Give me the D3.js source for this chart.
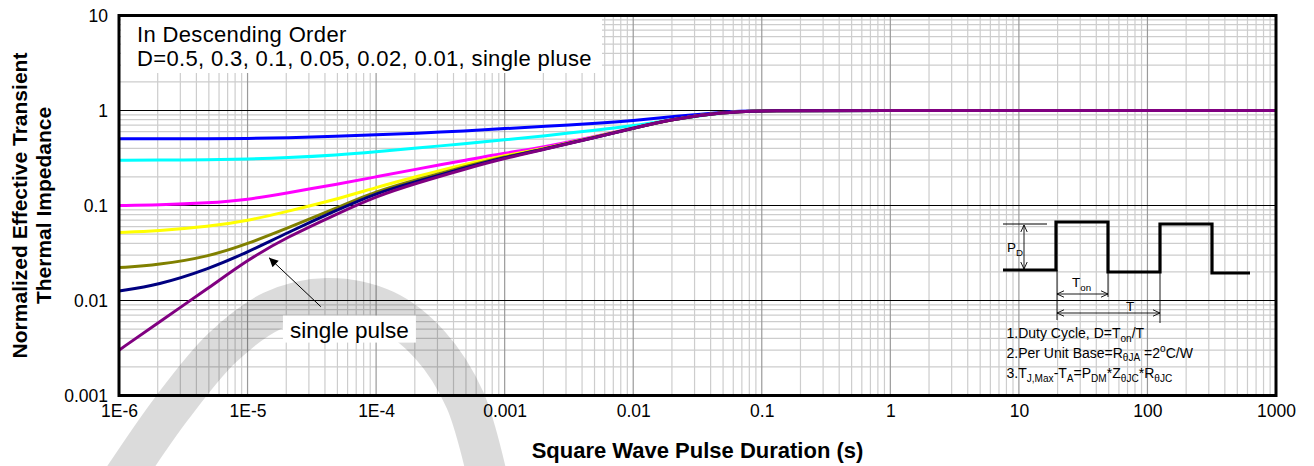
<!DOCTYPE html>
<html>
<head>
<meta charset="utf-8">
<script src="https://cdn.jsdelivr.net/npm/d3@7"></script>
<style>
  html, body { margin: 0; padding: 0; background: #fff; }
  svg { display: block; font-family: "Liberation Sans", Arial, Helvetica, sans-serif; }
</style>
</head>
<body>
<svg id="chart" width="1314" height="466"></svg>
<script>
// Pulse durations (s) at which the curves are sampled
const pulseDurations = [1e-6, 2e-6, 5e-6, 1e-5, 2e-5, 5e-5, 1e-4, 2e-4, 5e-4, 1e-3,
                        2e-3, 5e-3, 1e-2, 2e-2, 5e-2, 1e-1, 1, 10, 100, 1000];

// Normalized effective transient thermal impedance, one array per duty cycle
const zthD050   = [0.503, 0.503, 0.505, 0.507, 0.515, 0.535, 0.555, 0.575, 0.61, 0.645, 0.68, 0.73, 0.78, 0.86, 0.97, 1, 1, 1, 1, 1];
const zthD030   = [0.300, 0.300, 0.303, 0.308, 0.318, 0.340, 0.367, 0.400, 0.45, 0.490, 0.54, 0.62, 0.69, 0.80, 0.955, 1, 1, 1, 1, 1];
const zthD010   = [0.100, 0.101, 0.106, 0.115, 0.135, 0.168, 0.200, 0.240, 0.30, 0.356, 0.41, 0.53, 0.655, 0.81, 0.96, 1, 1, 1, 1, 1];
const zthD005   = [0.052, 0.054, 0.060, 0.069, 0.086, 0.117, 0.155, 0.200, 0.275, 0.335, 0.395, 0.525, 0.65, 0.81, 0.96, 1, 1, 1, 1, 1];
const zthD002   = [0.0222, 0.0236, 0.029, 0.0395, 0.057, 0.095, 0.141, 0.185, 0.258, 0.326, 0.392, 0.522, 0.65, 0.81, 0.96, 1, 1, 1, 1, 1];
const zthD001   = [0.0126, 0.0145, 0.0215, 0.0323, 0.051, 0.090, 0.135, 0.177, 0.251, 0.321, 0.390, 0.520, 0.65, 0.81, 0.96, 1, 1, 1, 1, 1];
const zthSingle = [0.0030, 0.0058, 0.0136, 0.0268, 0.046, 0.082, 0.125, 0.170, 0.244, 0.314, 0.388, 0.518, 0.648, 0.81, 0.96, 1, 1, 1, 1, 1];

const seriesNames  = ["D=0.5", "D=0.3", "D=0.1", "D=0.05", "D=0.02", "D=0.01", "single pulse"];
const seriesValues = [zthD050, zthD030, zthD010, zthD005, zthD002, zthD001, zthSingle];
const seriesColors = ["#0000ff", "#00ffff", "#ff00ff", "#ffff00", "#808000", "#000080", "#800080"];

// Axis tick labels
const xTickValues = [1e-6, 1e-5, 1e-4, 1e-3, 1e-2, 1e-1, 1, 10, 100, 1000];
const xTickLabels = ["1E-6", "1E-5", "1E-4", "0.001", "0.01", "0.1", "1", "10", "100", "1000"];
const yTickValues = [0.001, 0.01, 0.1, 1, 10];
const yTickLabels = ["0.001", "0.01", "0.1", "1", "10"];

// Text blocks
const legendLines = ["In Descending Order", "D=0.5, 0.3, 0.1, 0.05, 0.02, 0.01, single pluse"];
const xTitle = "Square Wave Pulse Duration (s)";
const yTitleLines = ["Normalized Effective Transient", "Thermal Impedance"];

// ---------------------------------------------------------------------------
const svg = d3.select("#chart");
const plot = { left: 119, right: 1276, top: 15.5, bottom: 395.5 };

const x = d3.scaleLog().domain([1e-6, 1000]).range([plot.left, plot.right]);
const y = d3.scaleLog().domain([0.001, 10]).range([plot.bottom, plot.top]);

// Minor + major grid positions: 1..9 in every decade
function decadeSteps(lo, hi) {
  const out = [];
  for (let e = Math.round(Math.log10(lo)); e < Math.round(Math.log10(hi)); e++) {
    for (let k = 1; k <= 9; k++) out.push({ v: k * Math.pow(10, e), major: k === 1 });
  }
  return out;
}
const xGridSteps = decadeSteps(1e-6, 1000).filter(d => d.v > 1e-6);
const yGridSteps = decadeSteps(0.001, 10).filter(d => d.v > 0.001);

const grid = svg.append("g").attr("class", "grid");
grid.selectAll("line.vminor").data(xGridSteps.filter(d => !d.major)).join("line")
  .attr("x1", d => x(d.v)).attr("x2", d => x(d.v))
  .attr("y1", plot.top).attr("y2", plot.bottom)
  .attr("stroke", "#cdcdcd").attr("stroke-width", 1.2);
grid.selectAll("line.hminor").data(yGridSteps.filter(d => !d.major)).join("line")
  .attr("x1", plot.left).attr("x2", plot.right)
  .attr("y1", d => y(d.v)).attr("y2", d => y(d.v))
  .attr("stroke", "#cdcdcd").attr("stroke-width", 1.2);
grid.selectAll("line.vmajor").data(xGridSteps.filter(d => d.major)).join("line")
  .attr("x1", d => x(d.v)).attr("x2", d => x(d.v))
  .attr("y1", plot.top).attr("y2", plot.bottom)
  .attr("stroke", "#9a9a9a").attr("stroke-width", 1.2);
grid.selectAll("line.hmajor").data(yGridSteps.filter(d => d.major)).join("line")
  .attr("x1", plot.left).attr("x2", plot.right)
  .attr("y1", d => y(d.v)).attr("y2", d => y(d.v))
  .attr("stroke", "#000").attr("stroke-width", 1);

// Faint background watermark stroke
const watermarkArch = [[122, 480], [172, 408], [222, 348], [272, 311], [327, 298],
                       [385, 310], [430, 345], [465, 400], [488, 480]];
svg.append("path")
  .attr("class", "watermark")
  .attr("d", d3.line().curve(d3.curveCatmullRom.alpha(0.5))(watermarkArch))
  .attr("fill", "none")
  .attr("stroke", "#000").attr("stroke-opacity", 0.14)
  .attr("stroke-width", 40);

// Impedance curves (B-spline through the sampled points on log-log axes)
const line = d3.line()
  .x(d => x(d[0]))
  .y(d => y(d[1]))
  .curve(d3.curveBasis);

svg.append("g").attr("class", "curves")
  .selectAll("path")
  .data(seriesValues.map((vals, i) => ({ name: seriesNames[i], color: seriesColors[i],
        pts: pulseDurations.map((t, j) => [t, vals[j]]) })))
  .join("path")
  .attr("d", d => line(d.pts))
  .attr("fill", "none")
  .attr("stroke", d => d.color)
  .attr("stroke-width", 3)
  .attr("stroke-linejoin", "round");

// Legend block in the upper-left corner
const legend = svg.append("g").attr("class", "legend");
legend.append("rect")
  .attr("x", plot.left + 2).attr("y", plot.top + 1.5)
  .attr("width", 481).attr("height", 56)
  .attr("fill", "#fff");
legend.append("text")
  .attr("font-size", 22)
  .attr("letter-spacing", 0.35)
  .attr("fill", "#000")
  .selectAll("tspan").data(legendLines).join("tspan")
  .attr("x", plot.left + 18)
  .attr("y", (d, i) => plot.top + 26 + i * 24.6)
  .text(d => d);

// "single pulse" call-out with arrow
const defs = svg.append("defs");
defs.append("marker")
  .attr("id", "arrowHead").attr("viewBox", "0 0 10 10")
  .attr("refX", 10).attr("refY", 5)
  .attr("markerWidth", 11).attr("markerHeight", 9)
  .attr("markerUnits", "userSpaceOnUse")
  .attr("orient", "auto")
  .append("path").attr("d", "M0,0 L10,5 L0,10 Z").attr("fill", "#000");

const calloutTip = [1.47e-5, 0.0282];
const calloutTail = [3.72e-5, 0.0086];
const calloutLabel = [6.2e-5, 0.005];
svg.append("line")
  .attr("x1", x(calloutTail[0])).attr("y1", y(calloutTail[1]))
  .attr("x2", x(calloutTip[0])).attr("y2", y(calloutTip[1]))
  .attr("stroke", "#000").attr("stroke-width", 1)
  .attr("marker-end", "url(#arrowHead)");
const lblX = x(calloutLabel[0]), lblY = y(calloutLabel[1]);
svg.append("rect")
  .attr("x", lblX - 66.5).attr("y", lblY - 13.5)
  .attr("width", 133).attr("height", 27)
  .attr("fill", "#fff");
svg.append("text")
  .attr("x", lblX).attr("y", lblY + 8.5)
  .attr("text-anchor", "middle")
  .attr("font-size", 22.5)
  .text("single pulse");

// Duty-cycle inset: pulse train and notes
const inset = svg.append("g").attr("class", "inset").attr("transform", "translate(1003,222)");
const wave = [[0, 48], [53, 48], [53, 0], [105, 0], [105, 50], [157, 50], [157, 2],
              [209, 2], [209, 51], [247, 51]];
inset.append("path")
  .attr("d", d3.line()(wave))
  .attr("fill", "none").attr("stroke", "#000").attr("stroke-width", 3.2)
  .attr("stroke-linejoin", "miter");
inset.append("line").attr("x1", 0).attr("x2", 44).attr("y1", 2).attr("y2", 2)
  .attr("stroke", "#000").attr("stroke-width", 1);

function thin(x1, y1, x2, y2) {
  inset.append("line").attr("x1", x1).attr("y1", y1).attr("x2", x2).attr("y2", y2)
    .attr("stroke", "#000").attr("stroke-width", 0.9);
}
function openHead(px, py, dx, dy) {
  // V-shaped open arrow head pointing along (dx, dy)
  const len = 7, half = 3.2;
  const bx = px - dx * len, by = py - dy * len;
  inset.append("path")
    .attr("d", `M${bx - dy * half},${by + dx * half} L${px},${py} L${bx + dy * half},${by - dx * half}`)
    .attr("fill", "none").attr("stroke", "#000").attr("stroke-width", 0.9);
}
// P_D arrow
thin(21, 3, 21, 47); openHead(21, 3, 0, -1); openHead(21, 47, 0, 1);
// extension lines
thin(54, 48, 54, 98); thin(105, 50, 105, 75); thin(157, 50, 157, 101);
// T_on arrow
thin(54, 72, 105, 72); openHead(54, 72, -1, 0); openHead(105, 72, 1, 0);
// T arrow
thin(54, 91, 157, 91); openHead(54, 91, -1, 0); openHead(157, 91, 1, 0);

function richText(g, px, py, size, parts) {
  const t = g.append("text").attr("x", px).attr("y", py).attr("font-size", size).attr("fill", "#000");
  let shift = 0;
  parts.forEach(([txt, kind]) => {
    const target = kind === "sub" ? 3.5 : kind === "sup" ? -6 : 0;
    t.append("tspan")
      .attr("dy", target - shift)
      .attr("font-size", kind === "n" ? size : size * 0.72)
      .text(txt);
    shift = target;
  });
  return t;
}
richText(inset, 4, 30, 13.5, [["P", "n"], ["D", "sub"]]);
richText(inset, 69, 65, 13.5, [["T", "n"], ["on", "sub"]]);
richText(inset, 123, 89, 13.5, [["T", "n"]]);
richText(inset, 3.5, 116, 14, [["1.Duty Cycle, D=T", "n"], ["on", "sub"], ["/T", "n"]]);
richText(inset, 3.5, 135.5, 14, [["2.Per Unit Base=R", "n"], ["θJA", "sub"], [" =2", "n"], ["o", "sup"], ["C/W", "n"]]);
richText(inset, 3.5, 156, 14, [["3.T", "n"], ["J,Max", "sub"], ["-T", "n"], ["A", "sub"], ["=P", "n"],
  ["DM", "sub"], ["*Z", "n"], ["θJC", "sub"], ["*R", "n"], ["θJC", "sub"]]);

// Plot frame
svg.append("rect")
  .attr("x", plot.left).attr("y", plot.top)
  .attr("width", plot.right - plot.left).attr("height", plot.bottom - plot.top)
  .attr("fill", "none").attr("stroke", "#000").attr("stroke-width", 3);

// Axes (labels only; the frame and grid draw the lines)
const xAxis = d3.axisBottom(x).tickValues(xTickValues)
  .tickFormat((d, i) => xTickLabels[i]).tickSize(0).tickPadding(9);
const gx = svg.append("g").attr("transform", `translate(0,${plot.bottom})`).call(xAxis);
gx.select(".domain").remove();
gx.selectAll("text").attr("font-size", 17.5).attr("font-family", null).attr("fill", "#000");

const yAxis = d3.axisLeft(y).tickValues(yTickValues)
  .tickFormat((d, i) => yTickLabels[i]).tickSize(0).tickPadding(11);
const gy = svg.append("g").attr("transform", `translate(${plot.left},0)`).call(yAxis);
gy.select(".domain").remove();
gy.selectAll("text").attr("font-size", 17.5).attr("font-family", null).attr("fill", "#000");

// Axis titles
svg.append("text")
  .attr("x", (plot.left + plot.right) / 2).attr("y", 458)
  .attr("text-anchor", "middle").attr("font-weight", "bold").attr("font-size", 22)
  .text(xTitle);
svg.selectAll("text.ytitle").data(yTitleLines).join("text")
  .attr("class", "ytitle")
  .attr("transform", (d, i) => `translate(${26.5 + i * 24},${(plot.top + plot.bottom) / 2}) rotate(-90)`)
  .attr("text-anchor", "middle").attr("font-weight", "bold").attr("font-size", 21)
  .text(d => d);
</script>
</body>
</html>
